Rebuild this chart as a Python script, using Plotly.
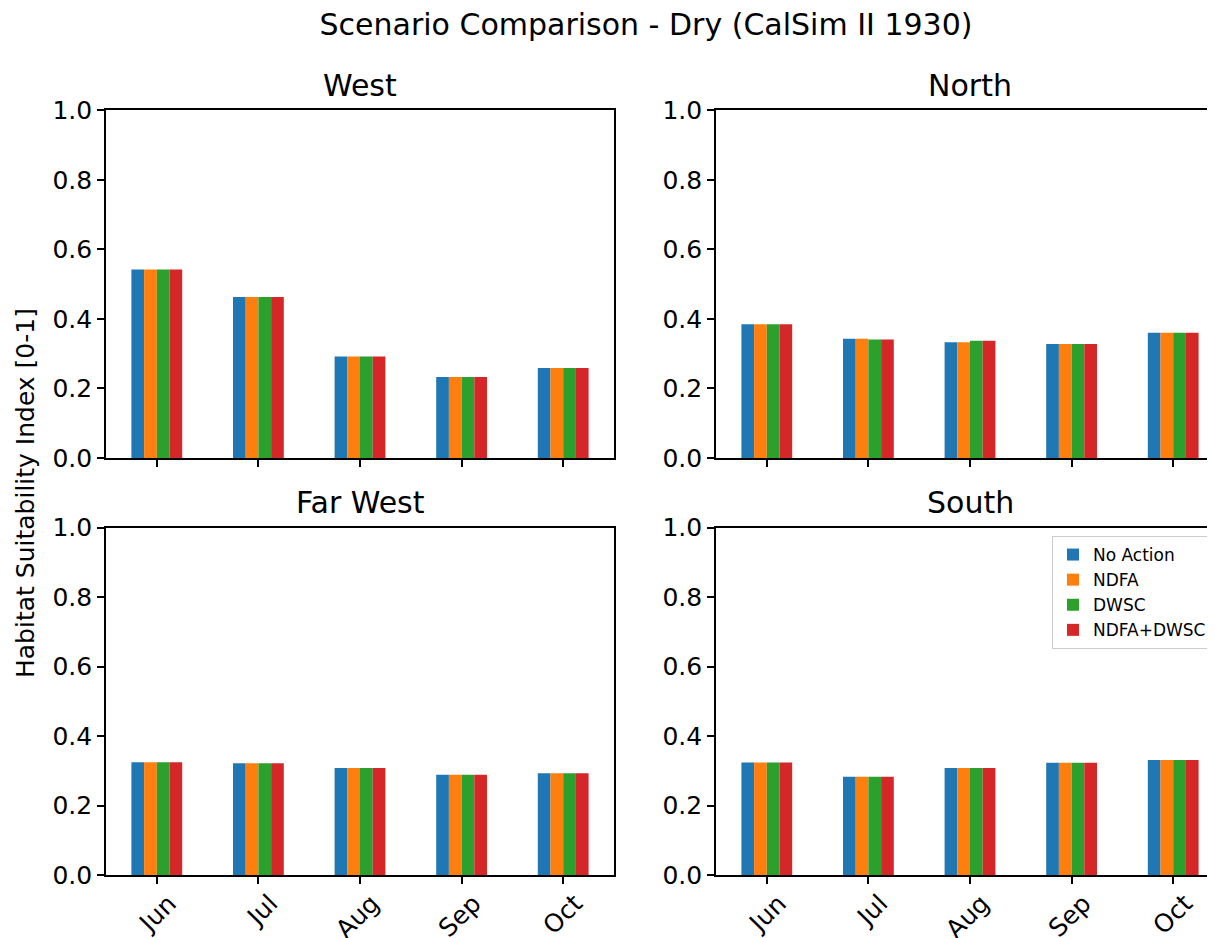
import plotly.graph_objects as go
from plotly.subplots import make_subplots

# values
months = ["Jun", "Jul", "Aug", "Sep", "Oct"]
scenarios = ["No Action", "NDFA", "DWSC", "NDFA+DWSC"]
colors = ["#1f77b4", "#ff7f0e", "#2ca02c", "#d62728"]
yticks = [0.0, 0.2, 0.4, 0.6, 0.8, 1.0]

# one list per scenario, in the order of `scenarios`
west = [
    [0.542, 0.463, 0.292, 0.233, 0.259],
    [0.542, 0.463, 0.292, 0.233, 0.259],
    [0.542, 0.463, 0.292, 0.233, 0.259],
    [0.542, 0.463, 0.292, 0.233, 0.259],
]
north = [
    [0.385, 0.343, 0.333, 0.328, 0.360],
    [0.385, 0.343, 0.333, 0.328, 0.360],
    [0.385, 0.341, 0.337, 0.328, 0.360],
    [0.385, 0.341, 0.337, 0.328, 0.360],
]
far_west = [
    [0.325, 0.322, 0.308, 0.289, 0.293],
    [0.325, 0.322, 0.308, 0.289, 0.293],
    [0.325, 0.322, 0.308, 0.289, 0.293],
    [0.325, 0.322, 0.308, 0.289, 0.293],
]
south = [
    [0.324, 0.283, 0.308, 0.323, 0.331],
    [0.324, 0.283, 0.308, 0.323, 0.331],
    [0.324, 0.283, 0.308, 0.323, 0.331],
    [0.324, 0.283, 0.308, 0.323, 0.331],
]

panels = [("West", west, 1, 1), ("North", north, 1, 2),
          ("Far West", far_west, 2, 1), ("South", south, 2, 2)]

# page has an 8px body margin, so the figure is drawn 8px in from the corner
OFF = 8
W, H = 1215 - OFF, 938 - OFF
FONT = "DejaVu Sans"


def px(x):
    return (x - OFF) / W


def py(y):
    return 1 - (y - OFF) / H


fig = make_subplots(rows=2, cols=2)

for name, vals, r, c in panels:
    for i, scen in enumerate(scenarios):
        fig.add_trace(go.Bar(x=months,
                             y=vals[i],
                             name=scen,
                             marker=dict(color=colors[i], line=dict(width=0)),
                             showlegend=(name == "South"),
                             legendgroup=scen),
                      row=r, col=c)

# panel boxes in screenshot pixels (left, right, top, bottom)
boxes = {1: (106, 614, 110.3, 458), 2: (716, 1215, 110.3, 458),
         3: (106, 614, 527.7, 875), 4: (716, 1215, 527.7, 875)}
cat_px = (614 - 106) / 5.0

layout_axes = {}
for k, (name, vals, r, c) in enumerate(panels, start=1):
    x0, x1, y0, y1 = boxes[k]
    sfx = "" if k == 1 else str(k)
    layout_axes["xaxis" + sfx] = dict(
        domain=[px(x0), px(x1)],
        range=[-0.5, -0.5 + (x1 - x0) / cat_px],
        type="category",
        showline=True, linecolor="black", linewidth=1.7,
        mirror=True,
        ticks="outside", ticklen=7, tickwidth=1.6, tickcolor="black",
        showticklabels=(r == 2),
        tickangle=-45,
        ticklabelshift=12,
        ticklabelstandoff=-5,
        tickfont=dict(size=25, color="black", family=FONT),
        showgrid=False, zeroline=False, automargin=False,
        anchor="y" + sfx)
    layout_axes["yaxis" + sfx] = dict(
        domain=[py(y1), py(y0)],
        range=[0, 1.0],
        tickvals=yticks,
        tickformat=".1f",
        showline=True, linecolor="black", linewidth=1.7,
        mirror=(c == 1),
        ticks="outside", ticklen=7, tickwidth=1.6, tickcolor="black",
        tickfont=dict(size=25, color="black", family=FONT),
        showgrid=False, zeroline=False, automargin=False,
        anchor="x" + sfx)
    # subplot title, centred over the full (uncropped) panel width
    xc = x0 + 2.5 * cat_px
    fig.add_annotation(text=name, x=px(xc), y=py(y0 - 25),
                       xref="paper", yref="paper",
                       xanchor="center", yanchor="middle", showarrow=False,
                       font=dict(size=30, color="black", family=FONT))

fig.update_layout(**layout_axes)

fig.add_annotation(text="Habitat Suitability Index [0-1]",
                   x=px(25), y=py(493), xref="paper", yref="paper",
                   textangle=-90, showarrow=False,
                   xanchor="center", yanchor="middle",
                   font=dict(size=25, color="black", family=FONT))

fig.update_layout(
    template="none",
    title=dict(text="Scenario Comparison - Dry (CalSim II 1930)",
               x=(646 - OFF) / W, xanchor="center", xref="container",
               y=1 - (24 - OFF) / H, yanchor="middle", yref="container",
               font=dict(size=30, color="black", family=FONT)),
    width=W, height=H, autosize=False,
    margin=dict(l=0, r=0, t=0, b=0),
    barmode="group", bargap=0.5, bargroupgap=0,
    plot_bgcolor="white", paper_bgcolor="white",
    font=dict(family=FONT, color="black"),
    legend=dict(x=px(1212), xanchor="right", y=py(536), yanchor="top",
                bordercolor="#cccccc", borderwidth=1, bgcolor="white",
                font=dict(size=17, color="black", family=FONT),
                tracegroupgap=0, itemwidth=30))

fig.write_html("out.html")
